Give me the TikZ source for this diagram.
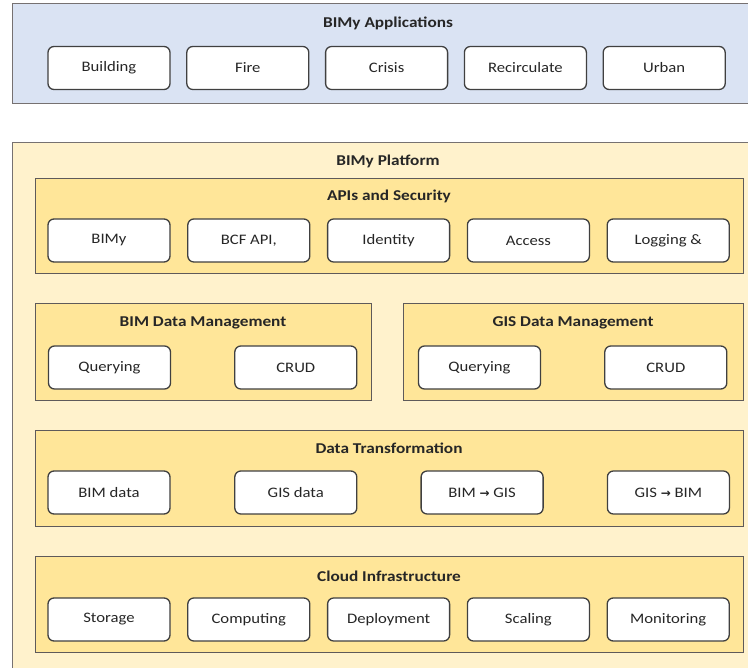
\documentclass[tikz,border=0pt]{standalone}
\usepackage{fontspec}
\setmainfont[FakeStretch=1.15]{Carlito}
\newfontfamily\arrowfont{DejaVu Sans}
\usetikzlibrary{positioning}
\definecolor{appblue}{HTML}{DAE3F3}
\definecolor{platyellow}{HTML}{FFF2CC}
\definecolor{layeryellow}{HTML}{FFE699}
\definecolor{framegray}{HTML}{767171}
\definecolor{inkgray}{HTML}{262626}
\newcommand{\toarrow}{{\arrowfont\bfseries\fontsize{12}{14}\selectfont →}}
\tikzstyle{appframe}=[rectangle, draw=framegray, fill=appblue, line width=1.3pt, anchor=north west, inner sep=0pt]
\tikzstyle{platframe}=[rectangle, draw=framegray, fill=platyellow, line width=1.3pt, anchor=north west, inner sep=0pt]
\tikzstyle{layerbox}=[rectangle, draw=framegray!80!black, fill=layeryellow, line width=1.3pt, anchor=north west, inner sep=0pt]
\tikzstyle{itembox}=[rectangle, rounded corners=6pt, draw=black!75, fill=white, line width=1.3pt, minimum width=122pt, minimum height=43pt, inner sep=2pt, text centered, text=inkgray, font=\fontsize{14.5}{16}\selectfont]
\tikzstyle{title}=[font=\bfseries\fontsize{15}{17}\selectfont, text=inkgray, inner sep=0pt]

\begin{document}
\begin{tikzpicture}[x=1pt, y=-1pt, node distance=15.5pt]
    \useasboundingbox (0,0) rectangle (748,668);

    % frames
    \node (apps) [appframe, minimum width=760pt, minimum height=100pt] at (12,3) {};
    \node (plat) [platframe, minimum width=760pt, minimum height=540pt] at (12,142) {};
    \node (apisec) [layerbox, minimum width=708pt, minimum height=95pt] at (35,178) {};
    \node (bimdm) [layerbox, minimum width=336pt, minimum height=97pt] at (35,303) {};
    \node (gisdm) [layerbox, minimum width=340pt, minimum height=97pt] at (403,303) {};
    \node (transf) [layerbox, minimum width=708pt, minimum height=96pt] at (35,430) {};
    \node (cloud) [layerbox, minimum width=708pt, minimum height=96pt] at (35,556) {};

    % titles
    \node (appst) [title] at (388,23) {BIMy Applications};
    \node (platt) [title] at (388,161) {BIMy Platform};
    \node (apisect) [title] at (389,196) {APIs and Security};
    \node (bimdmt) [title] at (203,323) {BIM Data Management};
    \node (gisdmt) [title] at (573,323) {GIS Data Management};
    \node (transft) [title] at (389,448) {Data Transformation};
    \node (cloudt) [title] at (389,576) {Cloud Infrastructure};

    % applications
    \node (build) [itembox] at (109,68) {Building};
    \node (fire) [itembox, right=of build] {Fire};
    \node (crisis) [itembox, right=of fire] {Crisis};
    \node (recirc) [itembox, right=of crisis] {Recirculate};
    \node (urban) [itembox, right=of recirc] {Urban};

    % apis and security
    \node (bimy) [itembox] at (109,240.5) {BIMy};
    \node (bcf) [itembox, right=16.5pt of bimy] {BCF API,};
    \node (ident) [itembox, right=16.5pt of bcf] {Identity};
    \node (access) [itembox, right=16.5pt of ident] {Access};
    \node (logging) [itembox, right=16.5pt of access] {Logging \&};

    % data management
    \node (bimq) [itembox] at (109.5,367.5) {Querying};
    \node (bimcrud) [itembox, right=63pt of bimq] {CRUD};
    \node (gisq) [itembox] at (479.5,367.5) {Querying};
    \node (giscrud) [itembox, right=63pt of gisq] {CRUD};

    % transformation
    \node (bimdata) [itembox] at (109,492.5) {BIM data};
    \node (gisdata) [itembox, right=63.5pt of bimdata] {GIS data};
    \node (bim2gis) [itembox, right=63pt of gisdata] {BIM \toarrow{} GIS};
    \node (gis2bim) [itembox, right=63pt of bim2gis] {GIS \toarrow{} BIM};

    % cloud
    \node (store) [itembox] at (109,619.5) {Storage};
    \node (comp) [itembox, right=16.5pt of store] {Computing};
    \node (deploy) [itembox, right=16.5pt of comp] {Deployment};
    \node (scale) [itembox, right=16.5pt of deploy] {Scaling};
    \node (monit) [itembox, right=16.5pt of scale] {Monitoring};

\end{tikzpicture}
\end{document}
